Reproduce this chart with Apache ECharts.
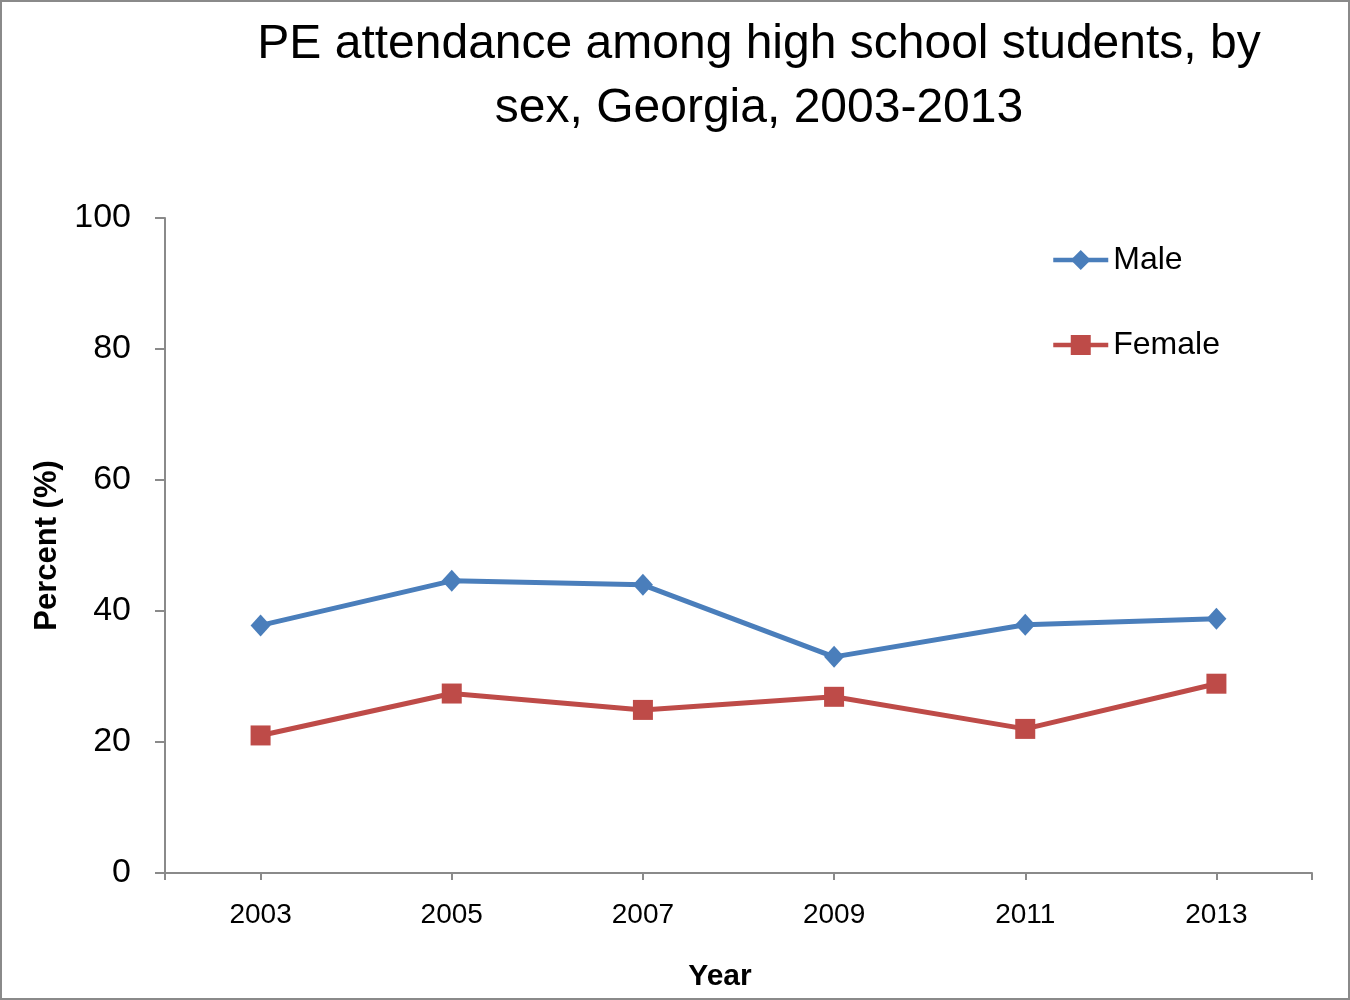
<!DOCTYPE html>
<html>
<head>
<meta charset="utf-8">
<script src="https://cdn.jsdelivr.net/npm/echarts@6/dist/echarts.min.js"></script>
<style>
  html, body { margin: 0; padding: 0; background: #fff; }
  #wrap { position: relative; width: 1350px; height: 1000px; }
  #chart { width: 1350px; height: 1000px; }
  #frame { position: absolute; left: 0; top: 0; width: 1350px; height: 1000px; box-sizing: border-box; border: 2px solid #8a8a8a; pointer-events: none; }
</style>
</head>
<body>
<div id="wrap"><div id="chart"></div><div id="frame"></div></div>
<script>
const titleText = 'PE attendance among high school students, by\nsex, Georgia, 2003-2013';
const years = ['2003', '2005', '2007', '2009', '2011', '2013'];
const maleValues = [37.8, 44.6, 44.0, 33.0, 37.9, 38.8];
const femaleValues = [21.0, 27.4, 24.9, 26.9, 22.0, 28.9];
const seriesNames = ['Male', 'Female'];
const yTicks = { min: 0, max: 100, interval: 20 };
const xAxisName = 'Year';
const yAxisName = 'Percent (%)';

const axisColor = '#8a8a8a';
const chart = echarts.init(document.getElementById('chart'), null, { renderer: 'canvas' });
chart.setOption({
  animation: false,
  backgroundColor: '#ffffff',
  textStyle: { fontFamily: 'Liberation Sans', color: '#000' },
  title: {
    text: titleText,
    left: 759,
    top: 13,
    padding: 0,
    textAlign: 'center',
    textStyle: { fontSize: 48, fontWeight: 'normal', color: '#000', lineHeight: 64, fontFamily: 'Liberation Sans' }
  },
  legend: {
    orient: 'vertical',
    left: 1051,
    top: 244,
    padding: 0,
    itemWidth: 55,
    itemHeight: 25,
    itemGap: 53,
    lineStyle: { width: 4.5 },
    textStyle: { fontSize: 32, color: '#000', fontFamily: 'Liberation Sans' },
    data: seriesNames
  },
  grid: { left: 165, top: 218, right: 38, bottom: 127, containLabel: false },
  xAxis: [
    {
      type: 'category',
      data: years,
      boundaryGap: true,
      name: xAxisName,
      nameLocation: 'middle',
      nameGap: 89,
      nameTextStyle: { fontSize: 30, fontWeight: 'bold', color: '#000', padding: [0, 37, 0, 0] },
      axisLine: { show: true, lineStyle: { color: axisColor, width: 2 } },
      axisTick: { show: true, alignWithLabel: true, length: 7, lineStyle: { color: axisColor, width: 2 } },
      axisLabel: { fontSize: 28, color: '#000', margin: 28 },
      splitLine: { show: false }
    },
    {
      type: 'value',
      min: 0, max: 1, interval: 1,
      position: 'bottom',
      axisLine: { show: false },
      axisTick: { show: true, length: 7, lineStyle: { color: axisColor, width: 2 } },
      axisLabel: { show: false },
      splitLine: { show: false }
    }
  ],
  yAxis: {
    type: 'value',
    min: yTicks.min, max: yTicks.max, interval: yTicks.interval,
    name: yAxisName,
    nameLocation: 'middle',
    nameGap: 100,
    nameTextStyle: { fontSize: 31, fontWeight: 'bold', color: '#000' },
    axisLine: { show: true, lineStyle: { color: axisColor, width: 2 } },
    axisTick: { show: true, inside: false, length: 10, lineStyle: { color: axisColor, width: 2 } },
    axisLabel: { fontSize: 34, color: '#000', margin: 34, padding: [4, 0, 0, 0] },
    splitLine: { show: false }
  },
  series: [
    {
      name: seriesNames[0],
      type: 'line',
      data: maleValues,
      color: '#4A7EBB',
      symbol: 'diamond',
      symbolSize: [20, 22],
      lineStyle: { width: 5, color: '#4A7EBB' },
      itemStyle: { color: '#4A7EBB' }
    },
    {
      name: seriesNames[1],
      type: 'line',
      data: femaleValues,
      color: '#BE4B48',
      symbol: 'rect',
      symbolSize: 20,
      lineStyle: { width: 5, color: '#BE4B48' },
      itemStyle: { color: '#BE4B48' }
    }
  ]
});
</script>
</body>
</html>
